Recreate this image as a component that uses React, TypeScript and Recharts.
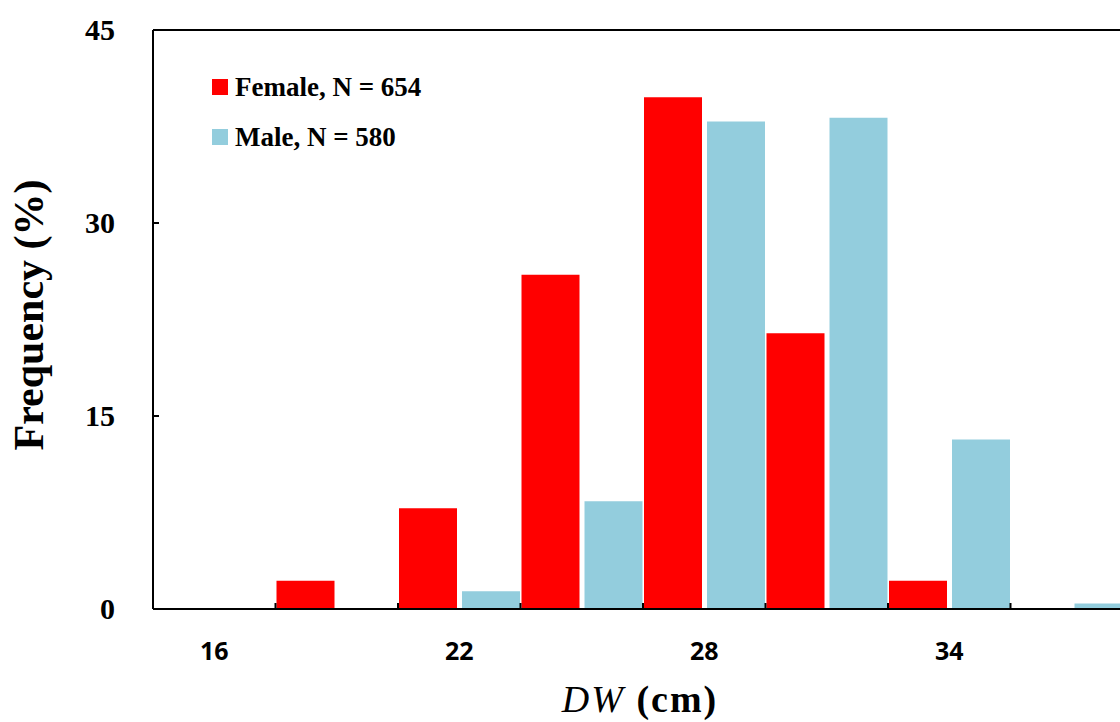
import React from 'react';
import { BarChart, Bar, XAxis, YAxis, ReferenceLine, Legend } from 'recharts';

// DW size classes (cm), one bar pair per class
const sizeClasses = ['16', '19', '22', '25', '28', '31', '34', '37'];
const femalePct = [0, 2.19, 7.83, 25.97, 39.78, 21.43, 2.19, 0];
const malePct = [0, 0, 1.38, 8.38, 37.89, 38.18, 13.17, 0.43];
const yTicks = [0, 15, 30, 45];
const shownXLabels = ['16', '22', '28', '34'];

const FEMALE = '#ff0000';
const MALE = '#93cddd';
const SERIF = '"Liberation Serif", "Times New Roman", serif';
const SANS = '"Open Sans", "Noto Sans", sans-serif';

const CHART_W = 1140;
const CHART_H = 722;
const MARGIN = { top: 30, right: 7, bottom: 0, left: 0 };
const Y_AXIS_W = 153;
const X_AXIS_H = 113;
const BAND = (CHART_W - MARGIN.left - MARGIN.right - Y_AXIS_W) / sizeClasses.length;

const data = sizeClasses.map((dw, i) => ({ dw, female: femalePct[i], male: malePct[i] }));

function XTick(props: any) {
  const { x, y, payload } = props;
  const edge = x - BAND / 2;
  return (
    <g>
      <line x1={edge} x2={edge} y1={y} y2={y - 6} stroke="#000" strokeWidth={2} />
      {shownXLabels.includes(String(payload.value)) && (
        <text x={x} y={y + 51} textAnchor="middle" fontFamily={SANS} fontWeight={700} fontSize={25} fill="#000">
          {payload.value}
        </text>
      )}
    </g>
  );
}

function YTick(props: any) {
  const { x, y, payload } = props;
  return (
    <g>
      <line x1={x} x2={x + 6} y1={y} y2={y} stroke="#000" strokeWidth={2} />
      <text x={x - 38} y={y + 10} textAnchor="end" fontFamily={SERIF} fontWeight={700} fontSize={30} fill="#000">
        {payload.value}
      </text>
    </g>
  );
}

function LegendBox() {
  const items = [
    { label: 'Female, N = 654', color: FEMALE },
    { label: 'Male, N = 580', color: MALE },
  ];
  return (
    <div style={{ fontFamily: SERIF, fontWeight: 700, fontSize: 27, color: '#000', whiteSpace: 'nowrap' }}>
      {items.map((it) => (
        <div key={it.label} style={{ display: 'flex', alignItems: 'center', height: 50 }}>
          <span style={{ display: 'inline-block', width: 16, height: 16, background: it.color, marginRight: 7 }} />
          <span style={{ lineHeight: '27px' }}>{it.label}</span>
        </div>
      ))}
    </div>
  );
}

export default function App() {
  return (
    <div style={{ position: 'absolute', left: 0, top: 0, width: 1120, height: 722, overflow: 'hidden', background: '#fff' }}>
      <BarChart width={CHART_W} height={CHART_H} data={data} margin={MARGIN} barCategoryGap={1} barGap={5}>
        <XAxis
          dataKey="dw"
          height={X_AXIS_H}
          interval={0}
          tickSize={0}
          tickMargin={0}
          tick={<XTick />}
          axisLine={{ stroke: '#000', strokeWidth: 2 }}
          tickLine={false}
          label={{
            content: () => (
              <text x={640} y={712} textAnchor="middle" fontFamily={SERIF} fontWeight={700} fontSize={38} letterSpacing={2} fill="#000">
                <tspan fontStyle="italic" fontWeight={400}>DW</tspan>
                <tspan> (cm)</tspan>
              </text>
            ),
          }}
        />
        <YAxis
          width={Y_AXIS_W}
          domain={[0, 45]}
          ticks={yTicks}
          tickSize={0}
          tickMargin={0}
          tick={<YTick />}
          axisLine={{ stroke: '#000', strokeWidth: 2 }}
          tickLine={false}
          label={{
            content: () => (
              <text
                x={43}
                y={315}
                transform="rotate(-90, 43, 315)"
                textAnchor="middle"
                fontFamily={SERIF}
                fontWeight={700}
                fontSize={42}
                fill="#000"
              >
                Frequency (%)
              </text>
            ),
          }}
        />
        <ReferenceLine y={45} stroke="#000" strokeWidth={2} />
        <Legend
          layout="horizontal"
          verticalAlign="middle"
          align="center"
          content={() => <LegendBox />}
          wrapperStyle={{ left: 212, top: 62, width: 'auto' }}
        />
        <Bar dataKey="female" name="Female, N = 654" fill={FEMALE} isAnimationActive={false} />
        <Bar dataKey="male" name="Male, N = 580" fill={MALE} isAnimationActive={false} />
      </BarChart>
    </div>
  );
}
